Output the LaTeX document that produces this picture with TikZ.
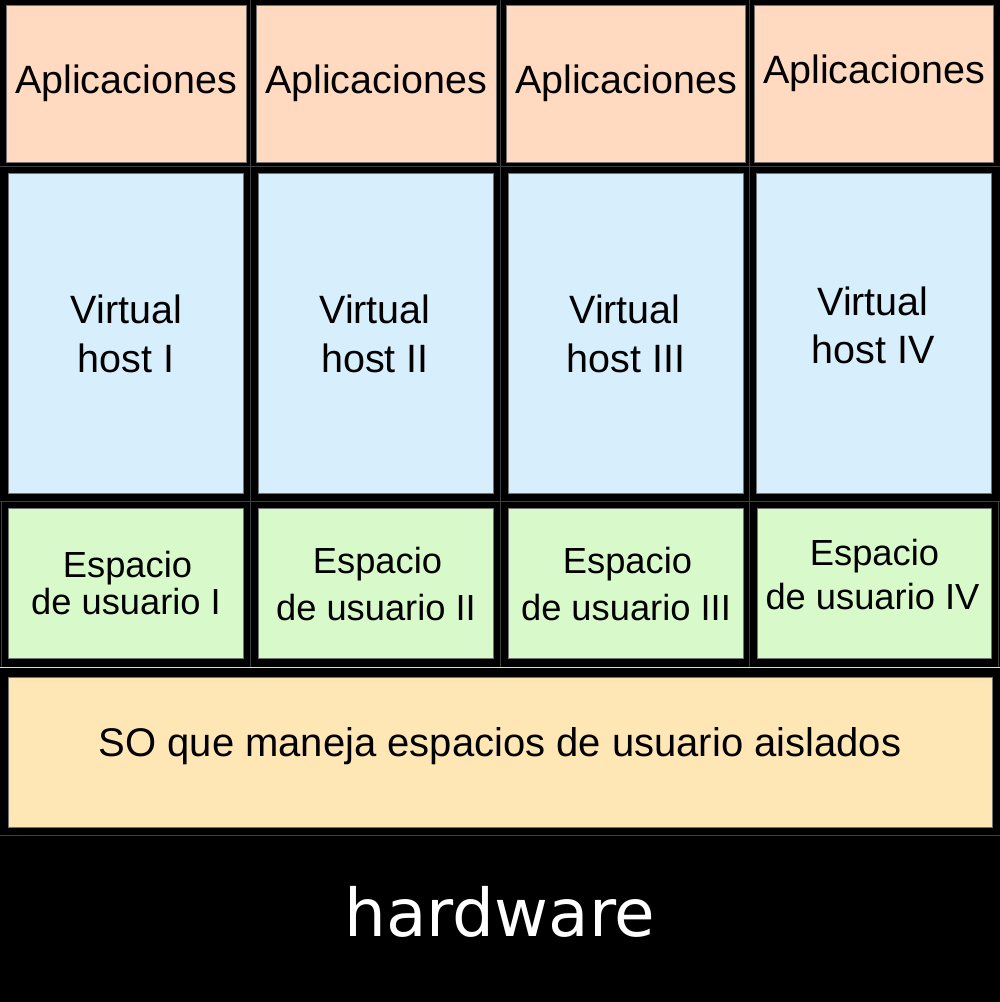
\documentclass[tikz,border=0pt]{standalone}
\usepackage{fontspec}
\setmainfont{Liberation Sans}
\newfontfamily\hwfont{DejaVu Sans}
\definecolor{appc}{HTML}{FFDAC0}
\definecolor{vhc}{HTML}{D7EEFC}
\definecolor{usc}{HTML}{D8FACA}
\definecolor{soc}{HTML}{FFE6B5}
\definecolor{seam}{HTML}{404040}
\definecolor{seamlight}{HTML}{DDDDDD}
\begin{document}
\begin{tikzpicture}[x=1pt,y=-1pt,
  cell/.style={draw=black!55, line width=0.6pt, inner sep=0pt, outer sep=0pt},
  big/.style={anchor=base, inner sep=0pt, font=\fontsize{39.5}{47}\selectfont},
  mid/.style={anchor=base, inner sep=0pt, font=\fontsize{36.3}{43}\selectfont},
  seamline/.style={draw=seam, line width=0.7pt}]
\fill[black] (0,0) rectangle (1000,1002);
\useasboundingbox (0,0) rectangle (1000,1002);
% seams
\draw[seamline] (0,166.5) -- (1000,166.5);
\draw[seamline] (0,501) -- (1000,501);
\draw[seamline] (250,0) -- (250,667);
\draw[seamline] (500.5,0) -- (500.5,667);
\draw[seamline] (749.5,0) -- (749.5,667);
\draw[seamline] (998.5,501) -- (998.5,667);
\draw[seamline] (1,501) -- (1,667);
\draw[draw=seamlight, line width=0.9pt] (0,667) -- (1000,667);
\draw[seamline] (0,835) -- (1000,835);
% application row
\node[cell, fill=appc, minimum width=240pt, minimum height=157pt] (app1) at (126,83.5) {};
\node[cell, fill=appc, minimum width=240pt, minimum height=157pt] (app2) at (376,83.5) {};
\node[cell, fill=appc, minimum width=239pt, minimum height=157pt] (app3) at (625.5,83.5) {};
\node[cell, fill=appc, minimum width=239pt, minimum height=157pt] (app4) at (873.5,83.5) {};
% virtual host row
\node[cell, fill=vhc, minimum width=235pt, minimum height=320pt] (vh1) at (125.5,333) {};
\node[cell, fill=vhc, minimum width=235pt, minimum height=320pt] (vh2) at (375.5,333) {};
\node[cell, fill=vhc, minimum width=235pt, minimum height=320pt] (vh3) at (625.5,333) {};
\node[cell, fill=vhc, minimum width=235pt, minimum height=320pt] (vh4) at (873.5,333) {};
% user space row
\node[cell, fill=usc, minimum width=235pt, minimum height=150pt] (us1) at (125.5,583) {};
\node[cell, fill=usc, minimum width=235pt, minimum height=150pt] (us2) at (375.5,583) {};
\node[cell, fill=usc, minimum width=235pt, minimum height=150pt] (us3) at (625.5,583) {};
\node[cell, fill=usc, minimum width=234pt, minimum height=150pt] (us4) at (874,583) {};
% OS row
\node[cell, fill=soc, minimum width=984pt, minimum height=150pt] (so) at (500,752) {};
% texts
\node[big] (ta1) at (126,93) {Aplicaciones};
\node[big] (ta2) at (376,93) {Aplicaciones};
\node[big] (ta3) at (626,93) {Aplicaciones};
\node[big] (ta4) at (874,83) {Aplicaciones};
\node[big] (tv1a) at (126.5,323) {Virtual};
\node[big] (tv1b) at (126,372) {host I};
\node[big] (tv2a) at (375,323) {Virtual};
\node[big] (tv2b) at (375,372) {host II};
\node[big] (tv3a) at (625,323) {Virtual};
\node[big] (tv3b) at (626,372) {host III};
\node[big] (tv4a) at (873,315) {Virtual};
\node[big] (tv4b) at (873,363) {host IV};
\node[mid] (tu1a) at (127.5,577) {Espacio};
\node[mid] (tu1b) at (126,614) {de usuario I};
\node[mid] (tu2a) at (377.5,573) {Espacio};
\node[mid] (tu2b) at (376,620) {de usuario II};
\node[mid] (tu3a) at (627.5,573) {Espacio};
\node[mid] (tu3b) at (626,620) {de usuario III};
\node[mid] (tu4a) at (874.5,565) {Espacio};
\node[mid] (tu4b) at (872.5,609) {de usuario IV};
\node[anchor=base, inner sep=0pt, font=\fontsize{40}{48}\selectfont] (tso) at (500,756) {SO que maneja espacios de usuario aislados};
\node[anchor=base, inner sep=0pt, text=white, font=\hwfont\fontsize{66}{79}\selectfont] (thw) at (500,936) {hardware};
\end{tikzpicture}
\end{document}
